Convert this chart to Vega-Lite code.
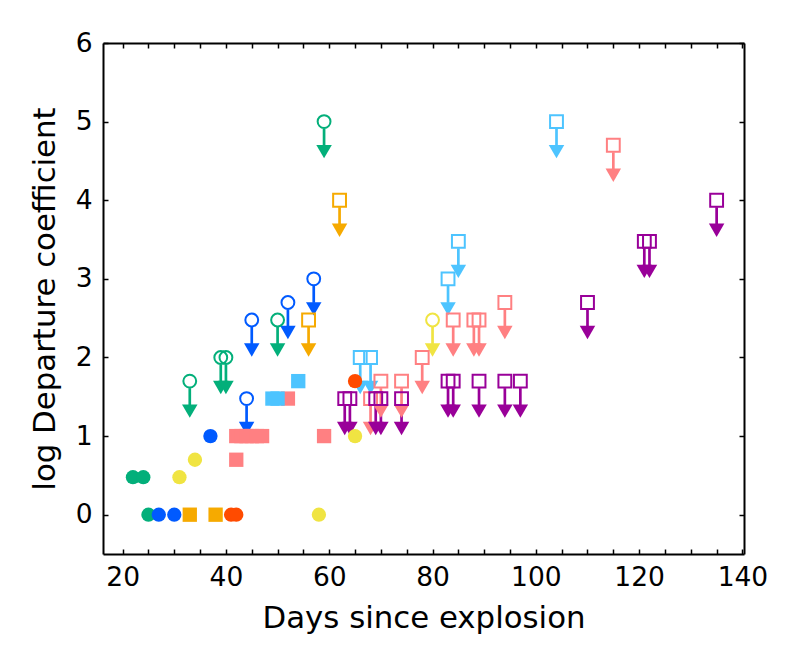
{
  "$schema": "https://vega.github.io/schema/vega-lite/v6.json",
  "width": 641,
  "height": 511,
  "autosize": {"type": "none"},
  "padding": {"left": 103, "top": 43, "right": 56, "bottom": 113},
  "background": "white",
  "config": {
    "view": {"stroke": null},
    "font": "DejaVu Sans",
    "axis": {
      "grid": false,
      "domainColor": "black",
      "domainWidth": 2,
      "tickColor": "black",
      "tickWidth": 1.5,
      "tickSize": -5,
      "labelColor": "black",
      "labelFont": "DejaVu Sans",
      "labelFontSize": 26.5,
      "titleFont": "DejaVu Sans",
      "titleFontSize": 30.8,
      "titleFontWeight": "normal",
      "titleColor": "black"
    }
  },
  "data": {
    "values": [
      {"g": "g1", "d": 22, "v": 0.477, "lim": false},
      {"g": "g1", "d": 24, "v": 0.477, "lim": false},
      {"g": "g1", "d": 25, "v": 0, "lim": false},
      {"g": "g1", "d": 33, "v": 1.699, "lim": true},
      {"g": "g1", "d": 39, "v": 2, "lim": true},
      {"g": "g1", "d": 40, "v": 2, "lim": true},
      {"g": "g1", "d": 50, "v": 2.477, "lim": true},
      {"g": "g1", "d": 59, "v": 5, "lim": true},
      {"g": "g2", "d": 27, "v": 0, "lim": false},
      {"g": "g2", "d": 30, "v": 0, "lim": false},
      {"g": "g2", "d": 37, "v": 1, "lim": false},
      {"g": "g2", "d": 44, "v": 1.477, "lim": true},
      {"g": "g2", "d": 45, "v": 2.477, "lim": true},
      {"g": "g2", "d": 52, "v": 2.699, "lim": true},
      {"g": "g2", "d": 57, "v": 3, "lim": true},
      {"g": "g3", "d": 33, "v": 0, "lim": false},
      {"g": "g3", "d": 38, "v": 0, "lim": false},
      {"g": "g3", "d": 56, "v": 2.477, "lim": true},
      {"g": "g3", "d": 62, "v": 4, "lim": true},
      {"g": "g4", "d": 41, "v": 0, "lim": false},
      {"g": "g4", "d": 42, "v": 0, "lim": false},
      {"g": "g4", "d": 65, "v": 1.699, "lim": false},
      {"g": "g5", "d": 31, "v": 0.477, "lim": false},
      {"g": "g5", "d": 34, "v": 0.699, "lim": false},
      {"g": "g5", "d": 58, "v": 0, "lim": false},
      {"g": "g5", "d": 65, "v": 1, "lim": false},
      {"g": "g5", "d": 80, "v": 2.477, "lim": true},
      {"g": "g6", "d": 42, "v": 0.699, "lim": false},
      {"g": "g6", "d": 42, "v": 1, "lim": false},
      {"g": "g6", "d": 43, "v": 1, "lim": false},
      {"g": "g6", "d": 44, "v": 1, "lim": false},
      {"g": "g6", "d": 45, "v": 1, "lim": false},
      {"g": "g6", "d": 46, "v": 1, "lim": false},
      {"g": "g6", "d": 47, "v": 1, "lim": false},
      {"g": "g6", "d": 52, "v": 1.477, "lim": false},
      {"g": "g6", "d": 59, "v": 1, "lim": false},
      {"g": "g6", "d": 68, "v": 1.477, "lim": true},
      {"g": "g6", "d": 70, "v": 1.699, "lim": true},
      {"g": "g6", "d": 74, "v": 1.699, "lim": true},
      {"g": "g6", "d": 78, "v": 2, "lim": true},
      {"g": "g6", "d": 84, "v": 2.477, "lim": true},
      {"g": "g6", "d": 88, "v": 2.477, "lim": true},
      {"g": "g6", "d": 89, "v": 2.477, "lim": true},
      {"g": "g6", "d": 94, "v": 2.699, "lim": true},
      {"g": "g6", "d": 115, "v": 4.699, "lim": true},
      {"g": "g7", "d": 49, "v": 1.477, "lim": false},
      {"g": "g7", "d": 50, "v": 1.477, "lim": false},
      {"g": "g7", "d": 54, "v": 1.699, "lim": false},
      {"g": "g7", "d": 66, "v": 2, "lim": true},
      {"g": "g7", "d": 68, "v": 2, "lim": true},
      {"g": "g7", "d": 83, "v": 3, "lim": true},
      {"g": "g7", "d": 85, "v": 3.477, "lim": true},
      {"g": "g7", "d": 104, "v": 5, "lim": true},
      {"g": "g8", "d": 63, "v": 1.477, "lim": true},
      {"g": "g8", "d": 64, "v": 1.477, "lim": true},
      {"g": "g8", "d": 69, "v": 1.477, "lim": true},
      {"g": "g8", "d": 70, "v": 1.477, "lim": true},
      {"g": "g8", "d": 74, "v": 1.477, "lim": true},
      {"g": "g8", "d": 83, "v": 1.699, "lim": true},
      {"g": "g8", "d": 84, "v": 1.699, "lim": true},
      {"g": "g8", "d": 89, "v": 1.699, "lim": true},
      {"g": "g8", "d": 94, "v": 1.699, "lim": true},
      {"g": "g8", "d": 97, "v": 1.699, "lim": true},
      {"g": "g8", "d": 110, "v": 2.699, "lim": true},
      {"g": "g8", "d": 121, "v": 3.477, "lim": true},
      {"g": "g8", "d": 122, "v": 3.477, "lim": true},
      {"g": "g8", "d": 135, "v": 4, "lim": true}
    ]
  },
  "encoding": {
    "x": {
      "field": "d",
      "type": "quantitative",
      "scale": {"domain": [16.2, 140.3], "nice": false, "zero": false}
    },
    "y": {
      "field": "v",
      "type": "quantitative",
      "scale": {"domain": [-0.5, 6], "nice": false, "zero": false}
    },
    "color": {
      "field": "g",
      "type": "nominal",
      "legend": null,
      "scale": {
        "domain": ["g1", "g2", "g3", "g4", "g5", "g6", "g7", "g8"],
        "range": ["#03af7a", "#005aff", "#f6aa00", "#ff4b00", "#f0e442", "#ff8082", "#4dc4ff", "#990099"]
      }
    }
  },
  "layer": [
    {
      "transform": [{"filter": "datum.lim"}],
      "mark": {"type": "rule", "strokeWidth": 2.7, "yOffset": 7, "y2Offset": 24},
      "encoding": {
        "x": {
          "field": "d",
          "type": "quantitative",
          "axis": {
            "orient": "bottom",
            "values": [20, 25, 30, 35, 40, 45, 50, 55, 60, 65, 70, 75, 80, 85, 90, 95, 100, 105, 110, 115, 120, 125, 130, 135, 140],
            "labelExpr": "datum.value % 20 == 0 ? datum.label : ''",
            "labelPadding": 15,
            "labelFlush": false,
            "title": "Days since explosion",
            "titleY": 64,
            "titleBaseline": "middle"
          }
        },
        "y": {
          "field": "v",
          "type": "quantitative",
          "axis": {
            "orient": "left",
            "values": [0, 1, 2, 3, 4, 5, 6],
            "labelPadding": 16,
            "labelFlush": false,
            "title": "log Departure coefficient",
            "titleX": -58,
            "titleBaseline": "middle"
          }
        },
        "y2": {"field": "v"}
      }
    },
    {
      "transform": [{"filter": "datum.lim"}],
      "mark": {"type": "point", "filled": true, "opacity": 1, "shape": "triangle-down", "size": 240, "yOffset": 30},
      "encoding": {
        "x": {"field": "d", "type": "quantitative", "axis": null},
        "y": {"field": "v", "type": "quantitative", "axis": null}
      }
    },
    {
      "transform": [{"filter": "datum.lim"}],
      "mark": {"type": "point", "filled": false, "opacity": 1, "strokeWidth": 2, "size": 165},
      "encoding": {
        "x": {"field": "d", "type": "quantitative", "axis": null},
        "y": {"field": "v", "type": "quantitative", "axis": null},
        "shape": {
          "field": "g",
          "type": "nominal",
          "legend": null,
          "scale": {
            "domain": ["g1", "g2", "g3", "g4", "g5", "g6", "g7", "g8"],
            "range": ["circle", "circle", "square", "circle", "circle", "square", "square", "square"]
          }
        }
      }
    },
    {
      "transform": [{"filter": "!datum.lim"}],
      "mark": {"type": "point", "filled": true, "opacity": 1, "size": 205},
      "encoding": {
        "x": {
          "field": "d",
          "type": "quantitative",
          "axis": {
            "orient": "top",
            "values": [20, 25, 30, 35, 40, 45, 50, 55, 60, 65, 70, 75, 80, 85, 90, 95, 100, 105, 110, 115, 120, 125, 130, 135, 140],
            "labels": false,
            "title": null
          }
        },
        "y": {
          "field": "v",
          "type": "quantitative",
          "axis": {
            "orient": "right",
            "values": [0, 1, 2, 3, 4, 5, 6],
            "labels": false,
            "title": null
          }
        },
        "shape": {
          "field": "g",
          "type": "nominal",
          "legend": null,
          "scale": {
            "domain": ["g1", "g2", "g3", "g4", "g5", "g6", "g7", "g8"],
            "range": ["circle", "circle", "square", "circle", "circle", "square", "square", "square"]
          }
        }
      }
    }
  ],
  "resolve": {"axis": {"x": "independent", "y": "independent"}}
}
